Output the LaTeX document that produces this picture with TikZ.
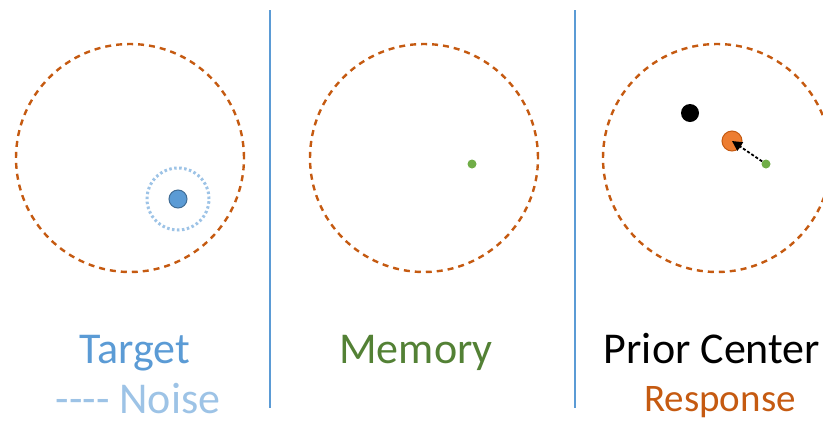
\documentclass[tikz,border=0pt]{standalone}
\usepackage{fontspec}
\setmainfont{Carlito}
\usetikzlibrary{arrows.meta}

\definecolor{ringorange}{HTML}{C55A11}
\definecolor{targetblue}{HTML}{5B9BD5}
\definecolor{noiseblue}{HTML}{9DC3E6}
\definecolor{memgreen}{HTML}{538135}
\definecolor{dotgreen}{HTML}{70AD47}
\definecolor{respfill}{HTML}{ED7D31}

\tikzset{
  bigring/.style={circle, draw=ringorange, line width=2.4pt, dash pattern=on 6pt off 5pt, minimum size=228pt, inner sep=0pt},
  noisering/.style={circle, draw=noiseblue, line width=3pt, dash pattern=on 2.5pt off 2.5pt, minimum size=62pt, inner sep=0pt},
  bigdot/.style={circle, minimum size=18pt, inner sep=0pt, line width=1pt},
  memdot/.style={circle, fill=dotgreen, minimum size=9pt, inner sep=0pt},
  caption/.style={anchor=base, font=\fontsize{44}{48}\selectfont, inner sep=0pt},
  divider/.style={draw=targetblue, line width=2pt}
}

\begin{document}
\begin{tikzpicture}[x=1pt, y=-1pt]
  \def\xMAX{823};
  \def\yMAX{424};
  \useasboundingbox (0,0) rectangle (\xMAX,\yMAX);

  \coordinate (divA top) at (270,10);
  \coordinate (divA bot) at (270,408);
  \coordinate (divB top) at (575,10);
  \coordinate (divB bot) at (575,408);
  \draw[divider] (divA top) -- (divA bot);
  \draw[divider] (divB top) -- (divB bot);

  \begin{scope}
    \node[bigring] (ringTarget) at (130,158) {};
    \node[noisering] (noise) at (178,199) {};
    \node[bigdot, fill=targetblue, draw=targetblue!70!black] (target) at (178,199) {};
  \end{scope}

  \begin{scope}
    \node[bigring] (ringMemory) at (424,158) {};
    \node[memdot] (memory) at (472,164) {};
  \end{scope}

  \begin{scope}
    \node[bigring] (ringResponse) at (717,158) {};
    \node[bigdot, fill=black] (prior) at (690,113) {};
    \node[bigdot, minimum size=20pt, fill=respfill, draw=ringorange] (response) at (732,141) {};
    \node[memdot] (memory2) at (766,164) {};
    \draw[-{Triangle[length=10pt, width=10pt]}, line width=1.8pt, dash pattern=on 3pt off 2pt] (memory2) -- (response.center);
  \end{scope}

  \node[caption, text=targetblue] (lblTarget) at (135,363) {Target};
  \node[caption, text=noiseblue] (lblNoise) at (138,413) {-{}-{}-{}- Noise};
  \node[caption, text=memgreen] (lblMemory) at (416,363) {Memory};
  \node[caption, text=black] (lblPrior) at (712,363) {Prior Center};
  \node[caption, text=ringorange, font=\fontsize{39}{44}\selectfont] (lblResponse) at (720,411) {Response};
\end{tikzpicture}
\end{document}
